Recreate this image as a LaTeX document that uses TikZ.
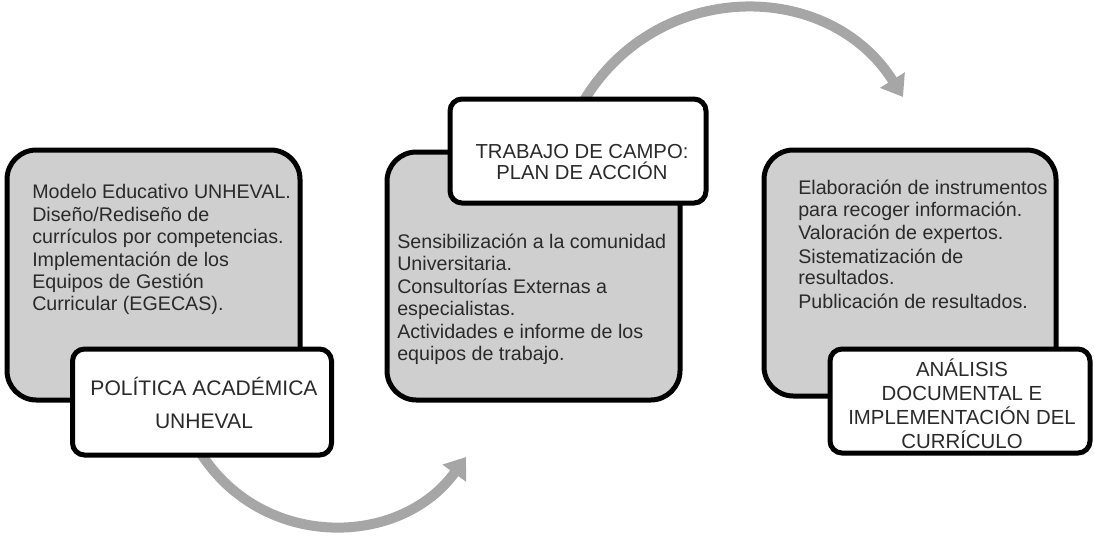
\documentclass[tikz,border=0pt]{standalone}
\usepackage{fontspec}
\setmainfont{Liberation Sans}
\usetikzlibrary{arrows.meta,backgrounds,calc}
\definecolor{boxgray}{HTML}{CFCFCF}
\definecolor{arrowgray}{HTML}{A6A6A6}
\definecolor{txt}{HTML}{2A2A2A}
\tikzset{
  bigbox/.style={draw=black, fill=boxgray, line width=3.75pt, rounded corners=22pt, inner sep=0pt},
  smallbox/.style={draw=black, fill=white, line width=3.75pt, rounded corners=9pt, inner sep=0pt},
  body/.style={anchor=base west, align=left, text=txt, inner sep=0pt, font=\fontsize{14.75}{16.25}\selectfont},
  title/.style={align=center, text=txt, inner sep=0pt},
  flow/.style={draw=arrowgray, line width=7.5pt, -{Triangle[length=15pt,width=21pt]}}
}
\begin{document}
\begin{tikzpicture}[x=0.75pt,y=-0.75pt]
\useasboundingbox (0,0) rectangle (1094,540);
% box 1
\node[bigbox, minimum width=219.75pt, minimum height=187.5pt] (b1) at (153.5,275) {};
\node[smallbox, minimum width=194.25pt, minimum height=79.5pt] (sb1) at (202,402) {};
\node[body] (t1) at (32,310) {Modelo Educativo UNHEVAL.\\[1.25pt]Diseño/Rediseño de\\currículos por competencias.\\[1.25pt]Implementación de los\\Equipos de Gestión\\Curricular (EGECAS).};
\node[title, font=\fontsize{15.8}{24.7}\selectfont] (ttl1) at (204,403) {POLÍTICA ACADÉMICA\\UNHEVAL};
% box 2
\node[bigbox, minimum width=219.75pt, minimum height=186pt] (b2) at (533.5,276) {};
\node[smallbox, minimum width=192pt, minimum height=78pt] (sb2) at (578,151) {};
\node[body] (t2) at (397,360) {Sensibilización a la comunidad\\Universitaria.\\[1.25pt]Consultorías Externas a\\especialistas.\\[1.25pt]Actividades e informe de los\\equipos de trabajo.};
\node[title, font=\fontsize{15.2}{16}\selectfont] (ttl2) at (582,162) {TRABAJO DE CAMPO:\\PLAN DE ACCIÓN};
% box 3
\node[bigbox, minimum width=219pt, minimum height=184.5pt] (b3) at (910,273) {};
\node[smallbox, minimum width=195pt, minimum height=78pt] (sb3) at (960,401) {};
\node[body] (t3) at (798,308) {Elaboración de instrumentos\\para recoger información.\\[1.25pt]Valoración de expertos.\\[1.25pt]Sistematización de\\resultados.\\[1.25pt]Publicación de resultados.};
\node[title, font=\fontsize{15.3}{18}\selectfont] (ttl3) at (962,404) {ANÁLISIS\\DOCUMENTAL E\\IMPLEMENTACIÓN DEL\\CURRÍCULO};
% connectors
\coordinate (a1start) at ($(sb1.south)+(-1,-4)$);
\coordinate (a1end) at (466,457);
\coordinate (a2start) at ($(sb2.north)+(6,4)$);
\coordinate (a2end) at (903,97);
\begin{scope}[on background layer]
\draw[flow] (a1start) .. controls (263,550) and (400,548) .. (a1end);
\draw[flow] (a2start) .. controls (658,-22) and (829,-21) .. (a2end);
\end{scope}
\end{tikzpicture}
\end{document}
